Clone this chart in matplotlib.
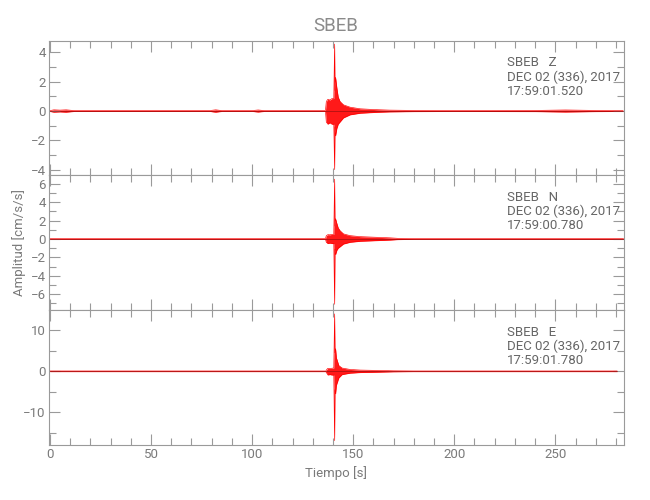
import matplotlib
matplotlib.use("Agg")
import matplotlib.pyplot as plt
from matplotlib.ticker import MultipleLocator

# ---------------- data (envelopes) ----------------
station = "SBEB"
components = ["Z", "N", "E"]
start_times = ["17:59:01.520", "17:59:00.780", "17:59:01.780"]
date_text = "DEC 02 (336), 2017"

t_z = [0, 2, 5, 8, 12, 30, 60, 79, 82, 85, 100, 103, 106, 130, 136.3, 136.7,
       137.5, 138.5, 139.5, 140.4, 140.8, 141.0, 141.3, 141.9, 142.6, 143.5,
       145.2, 148.5, 153.5, 161.7, 168.0, 180, 200, 240, 255, 270, 283.5]
up_z = [0.03, 0.08, 0.06, 0.08, 0.03, 0.03, 0.03, 0.03, 0.08, 0.03, 0.03, 0.07,
        0.03, 0.03, 0.03, 0.65, 0.80, 0.75, 0.85, 0.85, 4.57, 1.40, 2.30, 1.60,
        0.95, 0.65, 0.42, 0.26, 0.15, 0.09, 0.06, 0.04, 0.03, 0.04, 0.07, 0.04, 0.03]
lo_z = [-0.03, -0.08, -0.06, -0.08, -0.03, -0.03, -0.03, -0.03, -0.08, -0.03,
        -0.03, -0.07, -0.03, -0.03, -0.03, -0.75, -0.90, -0.80, -0.90, -0.90,
        -4.00, -1.10, -1.70, -1.20, -0.90, -0.75, -0.47, -0.26, -0.15, -0.09,
        -0.06, -0.04, -0.03, -0.04, -0.07, -0.04, -0.03]

t_n = [0, 30, 60, 100, 136.3, 136.7, 137.5, 138.5, 139.5, 140.4, 140.8, 141.0,
       141.3, 141.9, 142.6, 143.5, 145.2, 148.5, 153.5, 161.7, 168.3, 172, 180, 283.7]
up_n = [0.04, 0.04, 0.04, 0.04, 0.04, 0.36, 0.47, 0.45, 0.50, 0.50, 6.50, 1.40,
        2.20, 1.70, 1.20, 0.90, 0.55, 0.36, 0.25, 0.18, 0.12, 0.07, 0.04, 0.04]
lo_n = [-0.04, -0.04, -0.04, -0.04, -0.04, -0.36, -0.50, -0.45, -0.50, -0.50,
        -7.10, -1.10, -1.70, -1.25, -1.00, -0.85, -0.55, -0.36, -0.25, -0.18,
        -0.12, -0.07, -0.04, -0.04]

t_e = [0, 30, 60, 100, 136.5, 137.0, 137.5, 138.5, 139.5, 140.4, 140.8, 141.0,
       141.3, 141.7, 142.9, 144.5, 148.5, 153.5, 161.7, 170, 180, 280.5]
up_e = [0.08, 0.08, 0.08, 0.08, 0.08, 0.50, 0.73, 0.70, 0.75, 0.80, 14.0, 4.5,
        5.5, 3.3, 1.4, 0.8, 0.45, 0.30, 0.22, 0.12, 0.08, 0.08]
lo_e = [-0.08, -0.08, -0.08, -0.08, -0.08, -0.50, -0.90, -0.80, -0.90, -0.90,
        -16.9, -4.5, -5.5, -3.4, -1.6, -0.8, -0.45, -0.30, -0.22, -0.12, -0.08, -0.08]

traces = [(t_z, up_z, lo_z), (t_n, up_n, lo_n), (t_e, up_e, lo_e)]
ylims = [(-4.37, 4.78), (-7.72, 6.95), (-17.97, 14.95)]
ymajor = [2, 2, 10]
yminor = [1, 1, 5]
xlim = (-0.7, 283.7)

# ---------------- style ----------------
plt.rcParams['font.family'] = ['Roboto', 'DejaVu Sans']
axis_col = '#9a9a9a'
text_col = '#7a7a7a'
red = '#ff0000'

fig = plt.figure(figsize=(6.5, 5.0), dpi=100)
left, right = 48.5 / 650, 623.5 / 650
tops = [41, 175, 310]
bots = [175, 310, 445]
axes = []
for i in range(3):
    b = 1 - bots[i] / 500
    h = (bots[i] - tops[i]) / 500
    ax = fig.add_axes([left, b, right - left, h])
    axes.append(ax)

for i, ax in enumerate(axes):
    t, up, lo = traces[i]
    ax.fill_between(t, lo, up, color=red, lw=0, alpha=0.9)
    ax.plot(t, up, color=red, lw=0.45)
    ax.plot(t, lo, color=red, lw=0.45)
    ax.plot([t[0], t[-1]], [0, 0], color='#6a0a0a', lw=0.4, alpha=0.8)

    ax.set_xlim(*xlim)
    ax.set_ylim(*ylims[i])
    ax.xaxis.set_major_locator(MultipleLocator(50))
    ax.xaxis.set_minor_locator(MultipleLocator(10))
    ax.yaxis.set_major_locator(MultipleLocator(ymajor[i]))
    ax.yaxis.set_minor_locator(MultipleLocator(yminor[i]))
    ax.tick_params(which='both', direction='in', top=True, bottom=True,
                   left=True, right=True, color=axis_col, labelcolor=text_col,
                   labelsize=9.5, width=0.8)
    ax.tick_params(which='major', length=8, pad=2)
    ax.tick_params(which='minor', length=5)
    for s in ax.spines.values():
        s.set_color(axis_col)
        s.set_linewidth(0.8)
    if i < 2:
        ax.tick_params(labelbottom=False)
    ax.text(0.797, 0.885, f"{station}   {components[i]}\n{date_text}\n{start_times[i]}",
            transform=ax.transAxes, ha='left', va='top', fontsize=9.5,
            color='#666666', linespacing=1.1)

axes[0].set_title(station, color='#8a8a8a', fontsize=13.5, pad=7)
axes[1].set_ylabel("Amplitud [cm/s/s]", color=text_col, fontsize=9.5, labelpad=3)
axes[2].set_xlabel("Tiempo [s]", color=text_col, fontsize=9.5, labelpad=4)

fig.savefig("out.png", dpi=100, facecolor='white')
